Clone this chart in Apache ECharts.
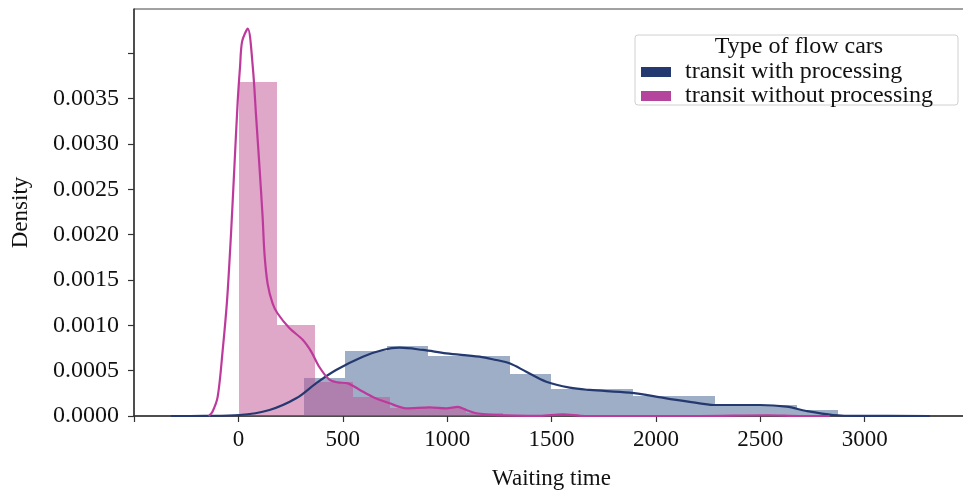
<!DOCTYPE html>
<html>
<head>
<meta charset="utf-8">
<script src="https://cdn.jsdelivr.net/npm/echarts@6/dist/echarts.min.js"></script>
<style>html,body{margin:0;padding:0;background:#fff;}#c{width:963px;height:495px;}</style>
</head>
<body>
<div id="c"></div>
<script>
// ---- data ----
const seriesNames = ['transit with processing', 'transit without processing'];
const legendTitle = 'Type of flow cars';
const xTickValues = [-500, 0, 500, 1000, 1500, 2000, 2500, 3000];
const xLabelValues = [0, 500, 1000, 1500, 2000, 2500, 3000];
const yTickValues = [0, 0.0005, 0.001, 0.0015, 0.002, 0.0025, 0.003, 0.0035, 0.004];
const yLabelValues = [0, 0.0005, 0.001, 0.0015, 0.002, 0.0025, 0.003, 0.0035];

// histogram: transit with processing (bin edges, density)
const blueEdges = [316, 513, 710, 906, 1103, 1299, 1496, 1692, 1889, 2085, 2282, 2478, 2675, 2872, 3068, 3265];
const blueDensity = [0.00042, 0.00072, 0.00077, 0.00066, 0.00066, 0.00046, 0.00030, 0.00030, 0.00022, 0.00022, 0.00012, 0.00012, 0.00007, 0.00001, 0.00001];
// histogram: transit without processing
const pinkEdges = [5, 185, 366, 547, 728, 908, 1089, 1270, 1451, 1631, 1812, 1993, 2174, 2354, 2535, 2716];
const pinkDensity = [0.00368, 0.00100, 0.00038, 0.00021, 0.000085, 0.000085, 0.00003, 0.000015, 0.000015, 0.000005, 0.0, 0.0, 0.0, 0.000005, 0.00001];

// KDE curves
const blueKdeX = [-323, -163, 5, 149, 277, 372, 468, 596, 692, 772, 884, 996, 1155, 1235, 1299, 1379, 1475, 1587, 1683, 1874, 2050, 2210, 2290, 2498, 2626, 2721, 2849, 2977, 3312];
const blueKdeY = [0, 0.000002, 0.000011, 0.000066, 0.000195, 0.00036, 0.000507, 0.000654, 0.000728, 0.000753, 0.000728, 0.000691, 0.000654, 0.000617, 0.000581, 0.000488, 0.000378, 0.000312, 0.000287, 0.000257, 0.000195, 0.00014, 0.000121, 0.000121, 0.000103, 0.000055, 0.000011, 0.000001, 0];
const pinkKdeX = [-142, -124, -99, -75, -54, -35, -19, -3, 8, 18, 45, 69, 85, 101, 116, 125, 140, 164, 188, 244, 308, 349, 388, 436, 476, 524, 580, 644, 724, 804, 916, 996, 1051, 1092, 1140, 1235, 1443, 1553, 1659, 2210, 2536, 2690, 2833];
const pinkKdeY = [0, 0.000047, 0.000213, 0.000728, 0.00128, 0.00202, 0.00275, 0.00348, 0.00385, 0.00413, 0.00427, 0.00385, 0.0033, 0.00275, 0.0022, 0.00179, 0.00146, 0.00124, 0.00113, 0.00097, 0.00084, 0.00071, 0.00054, 0.0004, 0.00037, 0.00036, 0.00029, 0.00021, 0.00014, 0.000085, 0.000096, 0.000085, 0.0001, 0.000066, 0.00003, 0.00001, 0.000002, 0.000019, 0, 0, 0.000008, 0, 0];

// ---- build ----
const FONT = '"Liberation Serif", "DejaVu Serif", serif';
const navy = '#24396f';
const magenta = '#bd3a9c';
function bins(edges, dens) { return dens.map((d, i) => [edges[i], edges[i + 1], d]); }
function zip(xs, ys) { return xs.map((x, i) => [x, ys[i]]); }
function histRender(fill) {
  return function (params, api) {
    const p0 = api.coord([api.value(0), api.value(2)]);
    const p1 = api.coord([api.value(1), 0]);
    const x0 = Math.round(p0[0]), x1 = Math.round(p1[0]);
    const y0 = Math.round(p0[1]), y1 = Math.round(p1[1]);
    return { type: 'rect', shape: { x: x0, y: y0, width: x1 - x0, height: y1 - y0 }, style: { fill: fill } };
  };
}
const chart = echarts.init(document.getElementById('c'), null, { renderer: 'canvas' });
chart.setOption({
  animation: false,
  backgroundColor: '#fff',
  textStyle: { fontFamily: FONT },
  grid: { left: 134, top: 9, right: -6, bottom: 79, show: true, borderColor: '#444', borderWidth: 1, containLabel: false, outerBoundsMode: 'none' },
  xAxis: {
    type: 'value', min: -500, max: 3500, interval: 500,
    name: 'Waiting time', nameLocation: 'middle', nameGap: 51,
    nameTextStyle: { fontFamily: FONT, fontSize: 23, color: '#111' },
    axisLine: { show: true, onZero: false, lineStyle: { color: '#333', width: 1.5 } },
    axisTick: { show: true, length: 6, lineStyle: { color: '#333', width: 1.2 }, customValues: xTickValues },
    axisLabel: { fontFamily: FONT, fontSize: 23, color: '#111', margin: 12, customValues: xLabelValues, formatter: v => String(v) },
    splitLine: { show: false }
  },
  yAxis: {
    type: 'value', min: 0, max: 0.004487, interval: 0.0005,
    name: 'Density', nameLocation: 'middle', nameGap: 102, nameRotate: 90,
    nameTextStyle: { fontFamily: FONT, fontSize: 23, color: '#111' },
    axisLine: { show: true, onZero: false, lineStyle: { color: '#333', width: 1.5 } },
    axisTick: { show: true, length: 6, lineStyle: { color: '#333', width: 1.2 }, customValues: yTickValues },
    axisLabel: { fontFamily: FONT, fontSize: 24, color: '#111', margin: 15, customValues: yLabelValues, formatter: v => v.toFixed(4) },
    splitLine: { show: false }
  },
  legend: {
    orient: 'vertical', left: 636, top: 55, itemGap: 0, itemWidth: 30, itemHeight: 10,
    icon: 'rect',
    textStyle: { fontFamily: FONT, fontSize: 24, color: '#111', lineHeight: 21, padding: [0, 0, 0, 9] },
    data: [
      { name: seriesNames[0], itemStyle: { color: navy } },
      { name: seriesNames[1], itemStyle: { color: '#b5459c' } }
    ]
  },
  graphic: [
    { type: 'rect', z: 3, shape: { x: 635, y: 35, width: 323, height: 70, r: 3 }, style: { fill: '#fff', stroke: '#d0d0d0', lineWidth: 1 } },
    { type: 'text', z: 5, x: 799, y: 47, style: { text: legendTitle, fontFamily: FONT, fontSize: 24, fill: '#111', align: 'center', verticalAlign: 'middle' } }
  ],
  series: [
    { name: seriesNames[0], type: 'custom', renderItem: histRender('rgba(61,93,141,0.5)'), data: bins(blueEdges, blueDensity), itemStyle: { color: navy }, z: 1 },
    { name: seriesNames[1], type: 'custom', renderItem: histRender('rgba(191,81,147,0.5)'), data: bins(pinkEdges, pinkDensity), itemStyle: { color: '#b5459c' }, z: 1 },
    { name: seriesNames[0], type: 'line', data: zip(blueKdeX, blueKdeY), showSymbol: false, smooth: 0.35, lineStyle: { color: navy, width: 2.2 }, itemStyle: { color: navy }, z: 2 },
    { name: seriesNames[1], type: 'line', data: zip(pinkKdeX, pinkKdeY), showSymbol: false, smooth: 0.3, lineStyle: { color: magenta, width: 2.2 }, itemStyle: { color: magenta }, z: 2 }
  ]
});
</script>
</body>
</html>
